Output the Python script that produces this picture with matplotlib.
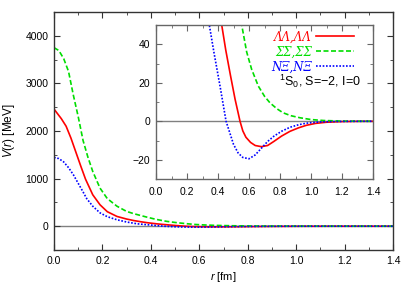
import matplotlib
matplotlib.use("Agg")
import matplotlib.pyplot as plt
from matplotlib.ticker import MultipleLocator

plt.rcParams['font.family'] = ['Liberation Sans', 'DejaVu Sans']
plt.rcParams['mathtext.fontset'] = 'custom'
plt.rcParams['mathtext.rm'] = 'Liberation Sans'
plt.rcParams['mathtext.it'] = 'Liberation Sans:italic'

# values: r in fm, V in MeV
r_ll = [0.00, 0.03, 0.05, 0.07, 0.09, 0.11, 0.13, 0.16, 0.19, 0.22, 0.26, 0.30,
        0.33, 0.36, 0.39, 0.424, 0.45, 0.48, 0.51, 0.542, 0.56, 0.58, 0.61, 0.64,
        0.68, 0.72, 0.76, 0.81, 0.865, 0.92, 0.97, 1.03, 1.10, 1.20, 1.30, 1.40]
v_ll = [2460, 2260, 2100, 1850, 1560, 1270, 990, 660, 450, 305, 205, 150,
        118, 92, 70, 50, 37, 24, 11.5, 0, -5, -8.3, -11, -12.6,
        -13.2, -12.6, -10.5, -7.7, -5.2, -3.4, -2.1, -1.1, -0.5, -0.15, -0.05, 0]

r_ss = [0.00, 0.02, 0.04, 0.06, 0.08, 0.10, 0.12, 0.14, 0.16, 0.19, 0.22, 0.26,
        0.30, 0.33, 0.38, 0.42, 0.465, 0.51, 0.553, 0.585, 0.617, 0.66, 0.70,
        0.735, 0.78, 0.82, 0.87, 0.93, 1.00, 1.08, 1.20, 1.30, 1.40]
v_ss = [3750, 3690, 3520, 3250, 2750, 2300, 1800, 1450, 1150, 800, 580, 420,
        310, 262, 195, 145, 102, 72, 50, 36, 27, 18.3, 13,
        9.6, 6.5, 4.4, 2.9, 1.8, 0.9, 0.4, 0.1, 0.03, 0]

r_nx = [0.00, 0.02, 0.04, 0.06, 0.08, 0.10, 0.12, 0.135, 0.16, 0.19, 0.22, 0.26,
        0.30, 0.344, 0.374, 0.413, 0.452, 0.48, 0.50, 0.53, 0.56, 0.60, 0.64,
        0.68, 0.72, 0.76, 0.81, 0.865, 0.92, 0.97, 1.05, 1.15, 1.30, 1.40]
v_nx = [1445, 1420, 1350, 1230, 1080, 900, 720, 580, 420, 280, 200, 135,
        88, 50, 35.7, 18.3, 0, -7, -12, -16.5, -18.8, -19.5, -17.5,
        -14, -10.5, -7.8, -5.2, -3.1, -1.8, -1.0, -0.4, -0.1, -0.02, 0]

labels = ['ΛΛ,ΛΛ', 'ΣΣ,ΣΣ', 'NΞ,NΞ']
colors = ['#ff0000', '#00dd00', '#0000ff']
styles = ['-', (0, (3, 1.5)), (0, (1, 1))]
series = [(r_ll, v_ll), (r_ss, v_ss), (r_nx, v_nx)]

fig = plt.figure(figsize=(4.07, 2.85), dpi=100)
ax = fig.add_axes([0.1327, 0.1228, 0.8329, 0.8352])
ins = fig.add_axes([0.3833, 0.372, 0.5332, 0.54])

def style_axes(a, edge):
    for s in a.spines.values():
        s.set_color(edge)
        s.set_linewidth(1.0)
    a.tick_params(which='both', direction='in', top=True, right=True,
                  labelsize=7.5, colors=edge, labelcolor='black', pad=4)
    a.tick_params(which='major', length=4)
    a.tick_params(which='minor', length=2.5)

for a in (ax, ins):
    a.axhline(0, color='#808080', lw=1.0, zorder=1)
    for (rr, vv), c, ls, lab in zip(series, colors, styles, labels):
        a.plot(rr, vv, color=c, ls=ls, lw=1.2, label=lab, zorder=2)

ax.set_xlim(0, 1.4)
ax.set_ylim(-500, 4500)
ax.xaxis.set_major_locator(MultipleLocator(0.2))
ax.xaxis.set_minor_locator(MultipleLocator(0.1))
ax.yaxis.set_major_locator(MultipleLocator(1000))
ax.yaxis.set_minor_locator(MultipleLocator(500))
ax.xaxis.set_major_formatter(plt.FormatStrFormatter('%.1f'))
ax.set_xlabel(r'$r$ [fm]', fontsize=8, labelpad=3)
ax.set_ylabel(r'$V(r)$ [MeV]', fontsize=8.5, labelpad=6)
style_axes(ax, '#333333')

ins.set_xlim(0, 1.4)
ins.set_ylim(-30, 50)
ins.xaxis.set_major_locator(MultipleLocator(0.2))
ins.xaxis.set_minor_locator(MultipleLocator(0.1))
ins.yaxis.set_major_locator(MultipleLocator(20))
ins.yaxis.set_minor_locator(MultipleLocator(10))
ins.xaxis.set_major_formatter(plt.FormatStrFormatter('%.1f'))
style_axes(ins, '#666666')
ins.tick_params(axis='x', pad=5.5)

leg = ins.legend(loc='upper right', bbox_to_anchor=(0.935, 0.995), frameon=False,
                 markerfirst=False, labelcolor='linecolor', handlelength=3.2,
                 handletextpad=0.4, labelspacing=0.16, borderaxespad=0,
                 prop={'family': 'DejaVu Serif', 'style': 'italic', 'size': 8.5})
ins.text(0.945, 0.636, r'$^{1}$S$_0$, S=$-$2, I=0', transform=ins.transAxes,
         ha='right', va='center', fontsize=9)

fig.savefig('out.png', dpi=100)
